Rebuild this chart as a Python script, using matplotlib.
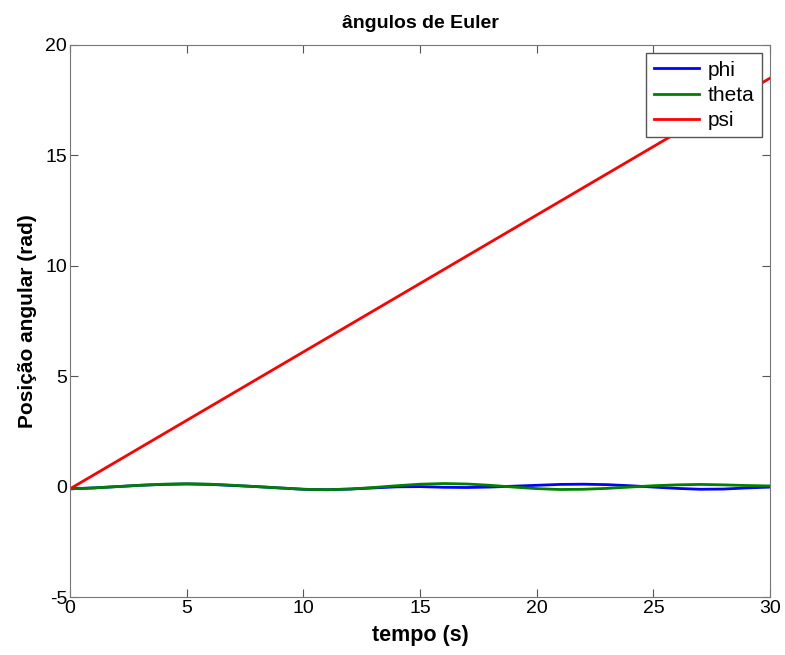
import numpy as np
import matplotlib.pyplot as plt

plt.rcParams['font.family'] = ['Liberation Sans', 'DejaVu Sans']
plt.rcParams['axes.unicode_minus'] = False

# values (rad)
t_psi = [0, 5, 10, 15, 20, 25, 30]
psi = [-0.1, 3.0, 6.1, 9.2, 12.3, 15.4, 18.5]

t_osc = [0, 1, 2, 3, 4, 5, 6, 7, 8, 9, 10, 11, 12, 13, 14, 15, 16, 17, 18, 19,
         20, 21, 22, 23, 24, 25, 26, 27, 28, 29, 30]
phi = [-0.1, -0.06, 0.0, 0.06, 0.1, 0.12, 0.1, 0.05, 0.0, -0.06, -0.12, -0.14, -0.11,
       -0.06, -0.01, 0.0, -0.03, -0.04, -0.02, 0.02, 0.06, 0.1, 0.11, 0.09, 0.04,
       -0.02, -0.08, -0.12, -0.11, -0.06, -0.02]
theta = [-0.1, -0.06, 0.0, 0.06, 0.11, 0.13, 0.11, 0.06, 0.0, -0.06, -0.12, -0.14, -0.11,
         -0.04, 0.04, 0.11, 0.14, 0.12, 0.06, -0.02, -0.09, -0.13, -0.12, -0.08, -0.02,
         0.04, 0.08, 0.1, 0.08, 0.05, 0.03]

fig = plt.figure(figsize=(7.85, 6.55), dpi=100)
ax = fig.add_axes([0.0892, 0.0885, 0.8918, 0.8428])

ax.plot(t_osc, phi, color=(0, 0, 1), lw=2.0, label='phi')
ax.plot(t_osc, theta, color=(0, 0.5, 0), lw=2.0, label='theta')
ax.plot(t_psi, psi, color=(1, 0, 0), lw=2.0, label='psi')

ax.set_xlim(0, 30)
ax.set_ylim(-5, 20)
ax.set_xticks([0, 5, 10, 15, 20, 25, 30])
ax.set_yticks([-5, 0, 5, 10, 15, 20])
ax.tick_params(direction='in', top=True, right=True, labelsize=14, length=6,
               color='#555555', pad=2)
for s in ax.spines.values():
    s.set_color('#777777')

ax.set_title('ângulos de Euler', fontsize=14, fontweight='bold', pad=12)
ax.set_xlabel('tempo (s)', fontsize=15.5, fontweight='bold', labelpad=6)
ax.set_ylabel('Posição angular (rad)', fontsize=15, fontweight='bold', labelpad=6)

leg = ax.legend(loc='upper right', fontsize=15, fancybox=False, framealpha=1,
                edgecolor='#555555', borderaxespad=0.4, handlelength=2.2,
                labelspacing=0.3, borderpad=0.35, handletextpad=0.4)
leg.get_frame().set_linewidth(1.0)

fig.savefig('out.png', dpi=100)
